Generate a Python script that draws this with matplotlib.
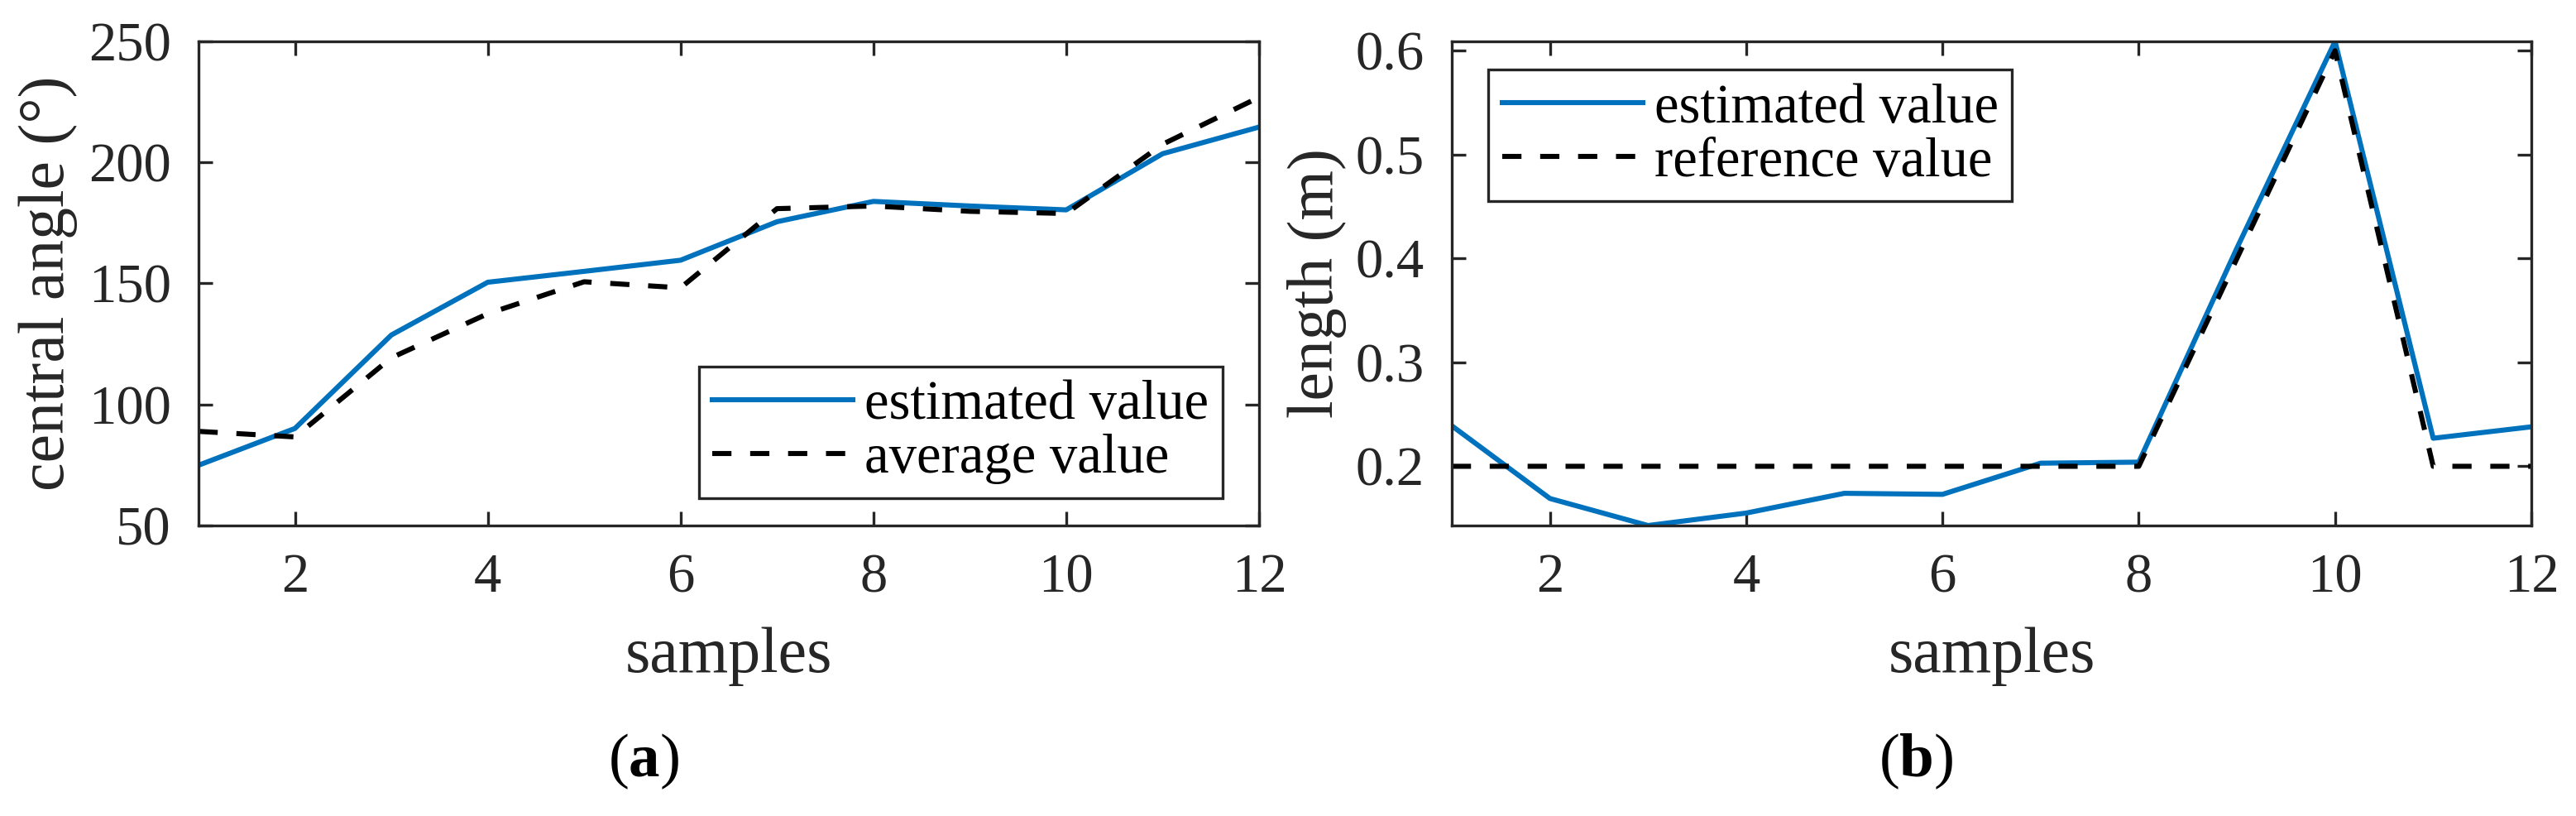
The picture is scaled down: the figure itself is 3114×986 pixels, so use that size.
import numpy as np
import matplotlib
matplotlib.use("Agg")
import matplotlib.pyplot as plt

plt.rcParams['font.family'] = ['Liberation Serif', 'DejaVu Serif']
plt.rcParams['mathtext.fontset'] = 'custom'
plt.rcParams['mathtext.rm'] = 'Liberation Serif'
plt.rcParams['mathtext.bf'] = 'Liberation Serif:bold'

# data
samples = np.arange(1, 13)
angle_est = [74.9, 90.1, 128.7, 150.5, 155.0, 159.6, 175.5, 183.9, 182.0, 180.4, 203.6, 214.6]
angle_avg = [88.9, 86.6, 119.3, 137.5, 150.7, 148.2, 180.9, 182.0, 179.8, 178.9, 207.5, 226.9]
length_est = [0.239, 0.169, 0.143, 0.155, 0.174, 0.173, 0.203, 0.204, 0.41, 0.609, 0.227, 0.238]
length_ref = [0.2, 0.2, 0.2, 0.2, 0.2, 0.2, 0.2, 0.2, 0.4, 0.6, 0.2, 0.2]

x_ticks = [2, 4, 6, 8, 10, 12]
angle_ticks = [50, 100, 150, 200, 250]
length_ticks = [0.2, 0.3, 0.4, 0.5, 0.6]
length_ticklabels = ['0.2', '0.3', '0.4', '0.5', '0.6']

BLUE = '#0072BD'
GRAY = '#262626'
W, H = 3114, 986
DPI = 100

fig = plt.figure(figsize=(W / DPI, H / DPI), dpi=DPI)

def px_axes(l, r, t, b):
    return fig.add_axes([l / W, 1 - b / H, (r - l) / W, (b - t) / H])

ax1 = px_axes(240, 1522, 50, 635)
ax2 = px_axes(1755, 3060, 50, 635)

dash = (3.8, 3.7)
lw = 4.4

ax1.plot(samples, angle_est, color=BLUE, lw=lw, label='estimated value')
ax1.plot(samples, angle_avg, color='k', lw=lw, ls=(0, dash), label='average value')
ax1.set_ylim(50, 250)
ax1.set_yticks(angle_ticks)

ax2.plot(samples, length_est, color=BLUE, lw=lw, label='estimated value')
ax2.plot(samples, length_ref, color='k', lw=lw, ls=(0, dash), label='reference value')
ax2.set_ylim(min(length_est), max(length_est))
ax2.set_yticks(length_ticks)
ax2.set_yticklabels(length_ticklabels)

for ax in (ax1, ax2):
    ax.set_xlim(1, 12)
    ax.set_xticks(x_ticks)
    ax.tick_params(direction='in', length=12, width=2.4, colors=GRAY,
                   labelsize=48, pad=24, top=True, right=True)
    for s in ax.spines.values():
        s.set_linewidth(2.4)
        s.set_color(GRAY)
    ax.set_xlabel('samples', fontsize=56, color=GRAY)
    ax.xaxis.set_label_coords(0.5, -0.21)

ax1.set_ylabel('central angle (°)', fontsize=56, color=GRAY)
ax1.yaxis.set_label_coords(-0.114, 0.5)
ax2.set_ylabel('length (m)', fontsize=56, color=GRAY)
ax2.yaxis.set_label_coords(-0.097, 0.5)

leg_kw = dict(fontsize=48, handlelength=2.55, handletextpad=0.21, labelspacing=0.06,
              borderpad=0.25, borderaxespad=0, fancybox=False, framealpha=1,
              edgecolor=GRAY)
l1 = ax1.legend(loc='lower right', bbox_to_anchor=(0.9657, 0.0564), **leg_kw)
l2 = ax2.legend(loc='upper left', bbox_to_anchor=(0.0337, 0.942), **leg_kw)
for lg in (l1, l2):
    lg.get_frame().set_linewidth(2.4)

fig.text(778 / W, 1 - 920 / H, r'($\mathbf{a}$)', fontsize=54, ha='center', va='center')
fig.text(2316 / W, 1 - 920 / H, r'($\mathbf{b}$)', fontsize=54, ha='center', va='center')

fig.savefig('out.png', dpi=DPI, facecolor='white')
